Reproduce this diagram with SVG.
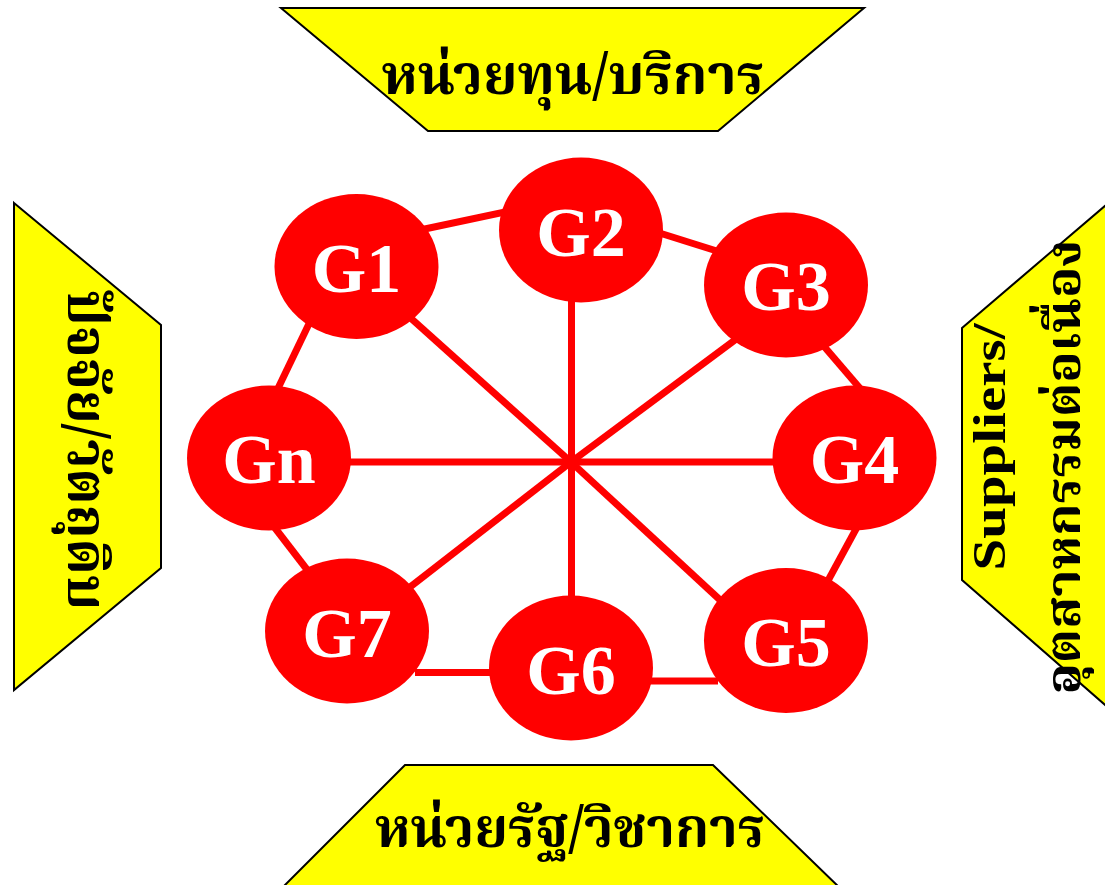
<svg xmlns="http://www.w3.org/2000/svg" width="1105" height="885" viewBox="0 0 1105 885">
<style>
.box{fill:#ffff00;stroke:#000;stroke-width:2}
.th{font-family:"Noto Serif Thai","Noto Sans Thai","Loma","Garuda","Tahoma","DejaVu Sans",sans-serif;font-weight:bold;fill:#000}
.en{font-family:"Liberation Serif","Times New Roman",serif;font-weight:bold;fill:#000}
.node{fill:#ff0000}
.lbl{font-family:"Liberation Serif","Times New Roman",serif;font-weight:bold;font-size:70px;fill:#fff;text-anchor:middle}
.edge{stroke:#ff0000;stroke-width:7;fill:none}
</style>
<rect width="1105" height="885" fill="#fff"/>
<g id="box-top">
<polygon class="box" points="281,8 864,8 718,131 428,131"/>
<text class="th" x="573" y="94" font-size="56" text-anchor="middle" textLength="383" lengthAdjust="spacingAndGlyphs">หน่วยทุน/บริการ</text>
</g>
<g id="box-left">
<polygon class="box" points="14,203 161,325 161,568 14,690"/>
<text class="th" transform="translate(68,450) rotate(90)" font-size="56" text-anchor="middle" textLength="320" lengthAdjust="spacingAndGlyphs">ปัจจัย/วัตถุดิบ</text>
</g>
<g id="box-right">
<polygon class="box" points="962,328 1120,193 1120,718 962,580"/>
<text class="en" transform="translate(1005,447) rotate(-90)" font-size="46" text-anchor="middle" textLength="247" lengthAdjust="spacingAndGlyphs">Suppliers/</text>
<text class="th" transform="translate(1080,467) rotate(-90)" font-size="48" text-anchor="middle" textLength="455" lengthAdjust="spacingAndGlyphs">อุตสาหกรรมต่อเนื่อง</text>
</g>
<g id="box-bottom">
<polygon class="box" points="405,765 713,765 842,890 280,890"/>
<text class="th" x="570" y="847" font-size="56" text-anchor="middle" textLength="390" lengthAdjust="spacingAndGlyphs">หน่วยรัฐ/วิชาการ</text>
</g>
<g id="connectors">
<line class="edge" x1="571.5" y1="230" x2="571.5" y2="668"/>
<line class="edge" x1="269" y1="462" x2="855" y2="462"/>
<line class="edge" x1="356" y1="269" x2="571" y2="462"/>
<line class="edge" x1="571" y1="462" x2="786" y2="661"/>
<line class="edge" x1="571" y1="462" x2="786" y2="302"/>
<line class="edge" x1="571" y1="462" x2="347" y2="636"/>
<line class="edge" x1="420" y1="230" x2="510" y2="211"/>
<line class="edge" x1="650" y1="230" x2="720" y2="252"/>
<line class="edge" x1="810" y1="330" x2="870" y2="400"/>
<line class="edge" x1="862" y1="518" x2="824" y2="588"/>
<line class="edge" x1="630" y1="681" x2="718" y2="681"/>
<line class="edge" x1="415" y1="672.5" x2="560" y2="672.5"/>
<line class="edge" x1="265" y1="515" x2="315" y2="580"/>
<line class="edge" x1="270" y1="405" x2="318" y2="305"/>
</g>
<g id="G1"><ellipse class="node" cx="356.5" cy="266.5" rx="82" ry="72.5"/><text class="lbl" x="356.5" y="292">G1</text></g>
<g id="G2"><ellipse class="node" cx="581" cy="230" rx="82" ry="72.5"/><text class="lbl" x="581" y="256">G2</text></g>
<g id="G3"><ellipse class="node" cx="786" cy="285" rx="82" ry="72.5"/><text class="lbl" x="786" y="310">G3</text></g>
<g id="G4"><ellipse class="node" cx="854.5" cy="458" rx="82" ry="72.5"/><text class="lbl" x="854.5" y="483">G4</text></g>
<g id="G5"><ellipse class="node" cx="786" cy="640.5" rx="82" ry="72.5"/><text class="lbl" x="786" y="666">G5</text></g>
<g id="G6"><ellipse class="node" cx="571" cy="668" rx="82" ry="72.5"/><text class="lbl" x="571" y="694">G6</text></g>
<g id="G7"><ellipse class="node" cx="347" cy="631" rx="82" ry="72.5"/><text class="lbl" x="347" y="657">G7</text></g>
<g id="Gn"><ellipse class="node" cx="269" cy="458" rx="82" ry="72.5"/><text class="lbl" x="269" y="483">Gn</text></g>
</svg>
